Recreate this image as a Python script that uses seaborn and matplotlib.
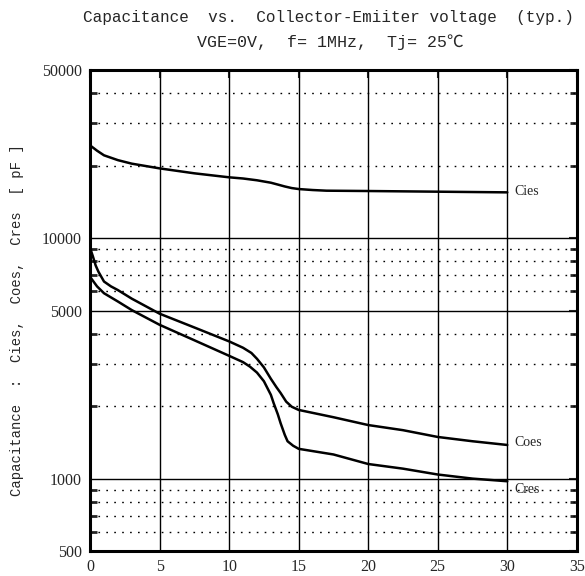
import matplotlib
matplotlib.use("Agg")
import matplotlib.pyplot as plt
import seaborn as sns
import pandas as pd
from matplotlib.ticker import FixedLocator, NullFormatter

# ---- data ----
cies_v = [0, 0.5, 1, 2, 3, 5, 7.5, 10, 11, 12, 13, 13.5, 14, 14.5, 15, 16, 17, 20, 25, 30]
cies_c = [24300, 23100, 22100, 21100, 20400, 19500, 18600, 17900, 17700, 17400, 17000, 16700, 16400, 16150, 16000, 15850, 15750, 15700, 15600, 15500]

coes_v = [0, 0.2, 0.4, 0.6, 1, 1.5, 2, 3, 5, 7.5, 10, 11, 11.6, 12, 12.5, 13, 13.4, 13.7, 14.1, 14.5, 15, 17.5, 20, 22.5, 25, 27.5, 30]
coes_c = [9100, 8400, 7700, 7250, 6600, 6300, 6080, 5600, 4850, 4250, 3720, 3500, 3330, 3150, 2900, 2600, 2400, 2270, 2090, 1990, 1930, 1800, 1670, 1590, 1490, 1430, 1380]

cres_v = [0, 0.5, 1, 2, 3, 5, 7.5, 10, 11, 11.5, 12, 12.5, 13, 13.2, 13.5, 13.7, 14, 14.2, 14.6, 15, 17.5, 20, 22.5, 25, 27.5, 30]
cres_c = [6900, 6300, 5900, 5450, 5020, 4360, 3760, 3240, 3050, 2920, 2760, 2540, 2230, 2060, 1850, 1700, 1520, 1430, 1370, 1330, 1260, 1150, 1100, 1040, 1000, 975]

series_names = ["Cies", "Coes", "Cres"]
label_pos = {"Cies": 15700, "Coes": 1410, "Cres": 900}

x_ticks = [0, 5, 10, 15, 20, 25, 30, 35]
y_major = [500, 1000, 5000, 10000, 50000]
y_minor = [600, 700, 800, 900, 2000, 3000, 4000, 6000, 7000, 8000, 9000,
           20000, 30000, 40000]
y_solid = [1000, 5000, 10000]

title1 = "Capacitance  vs.  Collector-Emiiter voltage  (typ.)"
title2 = "VGE=0V,  f= 1MHz,  Tj= 25\u2103"
ylabel = "Capacitance  :  Cies,  Coes,  Cres  [ pF ]"

df = pd.concat([
    pd.DataFrame({"V": cies_v, "C": cies_c, "s": "Cies"}),
    pd.DataFrame({"V": coes_v, "C": coes_c, "s": "Coes"}),
    pd.DataFrame({"V": cres_v, "C": cres_c, "s": "Cres"}),
])

sns.set_style("white")
plt.rcParams["font.family"] = ["Liberation Mono", "Noto Sans CJK JP", "DejaVu Sans"]

fig = plt.figure(figsize=(5.85, 5.76), dpi=100)
ax = fig.add_axes([0.154, 0.0434, 0.832, 0.835])

ax.set_yscale("log")
ax.set_xlim(0, 35)
ax.set_ylim(500, 50000)

# grid
for yv in y_minor:
    ax.axhline(yv, color="black", lw=1.0, ls=(0, (1.2, 4.5)), zorder=1)
for yv in y_solid:
    ax.axhline(yv, color="black", lw=1.0, zorder=1)
for xv in x_ticks[1:-1]:
    ax.axvline(xv, color="black", lw=1.0, zorder=1)

sns.lineplot(data=df, x="V", y="C", hue="s", palette=["black"] * 3,
             legend=False, ax=ax, lw=1.8, sort=False, estimator=None, zorder=3)

for name in series_names:
    ax.text(30.5, label_pos[name], name, fontsize=10, family="Liberation Serif",
            va="center", ha="left", zorder=4)

ax.xaxis.set_major_locator(FixedLocator(x_ticks))
ax.yaxis.set_major_locator(FixedLocator(y_major))
ax.yaxis.set_minor_locator(FixedLocator(y_minor))
ax.yaxis.set_minor_formatter(NullFormatter())
ax.set_yticklabels([str(v) for v in y_major])
ax.set_xticklabels([str(v) for v in x_ticks])
for lab in ax.get_xticklabels() + ax.get_yticklabels():
    lab.set_family("Liberation Serif")
    lab.set_fontsize(11.5)

ax.tick_params(axis="both", which="major", direction="in", length=6, width=1.5,
               top=True, right=True, pad=6)
ax.tick_params(axis="y", which="minor", direction="in", length=5, width=2.0,
               left=True, right=True)

for sp in ax.spines.values():
    sp.set_visible(True)
    sp.set_linewidth(2.2)
    sp.set_color("black")

ax.set_xlabel("")
ax.set_ylabel(ylabel, fontsize=10)
ax.yaxis.set_label_coords(-0.135, 0.48)

fig.text(0.562, 0.969, title1, ha="center", va="center", fontsize=11.5)
fig.text(0.565, 0.927, title2, ha="center", va="center", fontsize=12)

fig.savefig("out.png", dpi=100, facecolor="white")
